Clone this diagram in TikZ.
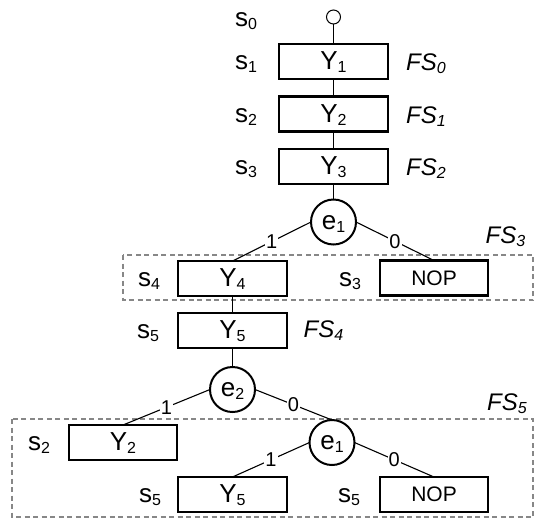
\documentclass[tikz,border=0pt]{standalone}
\usepackage{fontspec}
\setmainfont{Liberation Sans}
% small lowered index used in all labels
\newcommand{\lowsub}[1]{\raisebox{-3pt}{\fontsize{16}{16}\selectfont #1}}
\definecolor{framegray}{RGB}{135,135,135}

\begin{document}
\begin{tikzpicture}[x=1pt, y=-1pt,
  every node/.style={inner sep=0pt, outer sep=0pt},
  txt/.style={font=\fontsize{26}{26}\selectfont},
  blk/.style={txt, draw, line width=2.2pt, minimum width=109pt, minimum height=35pt,
              text height=16pt, text depth=0pt},
  nop/.style={draw, line width=2.2pt, minimum width=108pt, minimum height=35pt,
              font=\fontsize{21}{21}\selectfont, text height=14.5pt, text depth=0pt},
  evt/.style={txt, draw, circle, line width=2pt, minimum size=45pt,
              text height=14pt, text depth=0pt},
  start/.style={draw, circle, line width=1pt, minimum size=14pt},
  lbl/.style={txt, anchor=base},
  fslbl/.style={font=\fontsize{24}{24}\selectfont\itshape, anchor=base},
  conn/.style={line width=1.1pt},
  branch/.style={font=\fontsize{20}{20}\selectfont, fill=white, inner sep=1pt, midway},
  group/.style={draw=framegray, line width=2.2pt, dash pattern=on 5pt off 3.5pt}
]
\useasboundingbox (0,0) rectangle (535,520);

% fault-section frames
\draw[group] (123,255) rectangle (533,300);
\draw[group] (12,419) rectangle (533,517);

% main chain
\node[start] (n0) at (333.5,17) {};
\node[blk] (y1) at (333.5,61.5) {Y\lowsub{1}};
\node[blk] (y2) at (333.5,114) {Y\lowsub{2}};
\node[blk] (y3) at (333.5,166.5) {Y\lowsub{3}};
\node[evt] (e1a) at (333.5,222) {e\lowsub{1}};
\node[blk] (y4) at (232.5,278.5) {Y\lowsub{4}};
\node[nop] (nop1) at (434,278) {NOP};
\node[blk] (y5) at (232.5,330.5) {Y\lowsub{5}};
\node[evt] (e2) at (232.5,389.5) {e\lowsub{2}};
\node[blk, minimum width=108pt] (y2b) at (123,442.5) {Y\lowsub{2}};
\node[evt] (e1b) at (332,442.5) {e\lowsub{1}};
\node[blk] (y5b) at (232.5,494.5) {Y\lowsub{5}};
\node[nop] (nop2) at (434,494.5) {NOP};

% state labels
\node[lbl] (ls0) at (246,26.5) {s\lowsub{0}};
\node[lbl] (ls1) at (246,69.5) {s\lowsub{1}};
\node[lbl] (ls2) at (246,122) {s\lowsub{2}};
\node[lbl] (ls3) at (246,174.5) {s\lowsub{3}};
\node[lbl] (ls4) at (149,286.5) {s\lowsub{4}};
\node[lbl] (ls3b) at (350,286.5) {s\lowsub{3}};
\node[lbl] (ls5) at (148,338.5) {s\lowsub{5}};
\node[lbl] (ls2b) at (39,450.5) {s\lowsub{2}};
\node[lbl] (ls5b) at (150,502.5) {s\lowsub{5}};
\node[lbl] (ls5c) at (349,502.5) {s\lowsub{5}};

% fault-section labels
\node[fslbl] (fs0) at (426,70.5) {FS\lowsub{0}};
\node[fslbl] (fs1) at (426,123) {FS\lowsub{1}};
\node[fslbl] (fs2) at (426,175.5) {FS\lowsub{2}};
\node[fslbl] (fs3) at (505.5,243) {FS\lowsub{3}};
\node[fslbl] (fs4) at (323.5,337) {FS\lowsub{4}};
\node[fslbl] (fs5) at (507,410) {FS\lowsub{5}};

% connectors
\draw[conn] (n0.south) -- (y1.north);
\draw[conn] (y1.south) -- (y2.north);
\draw[conn] (y2.south) -- (y3.north);
\draw[conn] (y3.south) -- (e1a.north);
\draw[conn] (e1a.west) -- node[branch]{1} (y4.north);
\draw[conn] (e1a.east) -- node[branch]{0} (nop1.north);
\draw[conn] (y4.south) -- (y5.north);
\draw[conn] (y5.south) -- (e2.north);
\draw[conn] (e2.west) -- node[branch]{1} (y2b.north);
\draw[conn] (e2.east) -- node[branch]{0} (e1b.north);
\draw[conn] (e1b.west) -- node[branch]{1} (y5b.north);
\draw[conn] (e1b.east) -- node[branch]{0} (nop2.north);
\end{tikzpicture}
\end{document}
